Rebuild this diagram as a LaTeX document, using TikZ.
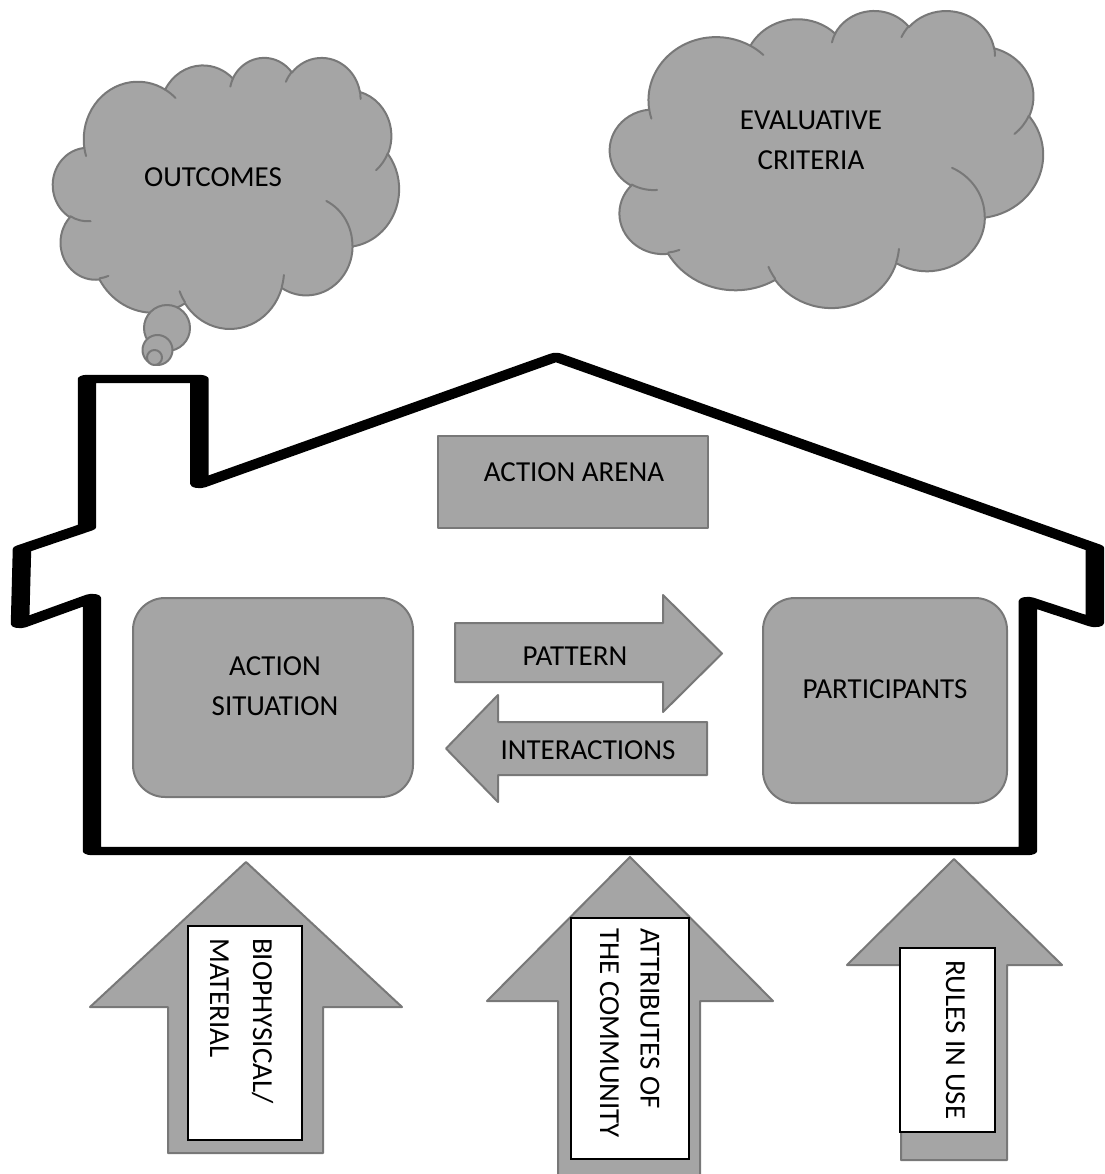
\documentclass[tikz,border=0pt]{standalone}
\usepackage{fontspec}
\setmainfont{Carlito}
\definecolor{shapefill}{RGB}{165,165,165}
\definecolor{shapeline}{RGB}{120,120,120}

% elliptical arc given by radii, start angle and sweep (angles measured as seen, y pointing down)
\newcommand\oarc[4]{arc[x radius=#1, y radius=#2,
  start angle={atan2((#1)*sin(#3),(#2)*cos(#3))},
  delta angle={mod(atan2((#1)*sin((#3)+(#4)),(#2)*cos((#3)+(#4)))-atan2((#1)*sin(#3),(#2)*cos(#3))+720,360)}]}

% cloud outline in a 432 x 432 frame
\newcommand\cloudoutline{(39.00,143.70)
  \oarc{67.53}{91.90}{-190.4875}{123.7805}
  \oarc{53.33}{72.67}{-144.1024}{89.9452}
  \oarc{43.65}{59.45}{-145.8079}{99.7230}
  \oarc{48.57}{65.95}{-130.9861}{117.2417}
  \oarc{53.33}{72.73}{-78.7089}{109.0269}
  \oarc{67.75}{92.20}{-46.2673}{130.2690}
  \oarc{57.85}{78.67}{0.6250}{114.0333}
  \oarc{67.52}{92.15}{22.4516}{115.1726}
  \oarc{77.20}{105.43}{66.2426}{75.7110}
  \oarc{43.60}{59.18}{-274.9421}{146.7356}
  \oarc{43.45}{59.45}{-246.8285}{152.5189} -- cycle}

% short creases between the puffs
\newcommand\cloudcreases{(46.93,261.77) \oarc{43.45}{59.45}{86.7420}{26.4295}
  (69.28,348.99) \oarc{43.60}{59.18}{73.6105}{11.4475}
  (164.78,390.90) \oarc{67.52}{92.15}{137.6242}{14.0811}
  (288.27,347.51) \oarc{67.52}{92.15}{6.4533}{15.9984}
  (341.29,229.54) \oarc{57.85}{78.67}{-70.2924}{70.9174}
  (417.98,153.54) \oarc{53.33}{72.73}{30.3180}{27.7515}
  (383.24,54.26) \oarc{48.57}{65.95}{-13.7443}{14.8589}
  (290.78,39.52) \oarc{48.57}{65.95}{-149.1815}{18.1954}
  (221.41,47.20) \oarc{43.65}{59.45}{-163.4943}{17.6864}
  (140.00,51.92) \oarc{67.53}{91.90}{-66.7070}{12.3194}
  (41.27,157.89) \oarc{67.53}{91.90}{157.6544}{11.8582}}

\tikzset{
  lbl/.style={font=\fontsize{29pt}{40pt}\selectfont, inner sep=0pt, text=black},
  grayshape/.style={fill=shapefill, draw=shapeline, line width=2pt, line join=round},
  boxshape/.style={grayshape, rectangle, inner sep=0pt},
  whitebox/.style={rectangle, fill=white, draw=black, line width=1.3pt, inner sep=0pt},
  bubble/.style={grayshape, circle, inner sep=0pt},
  crease/.style={draw=shapeline, line width=2pt, line cap=round},
  houseline/.style={draw=black, line width=8.4pt, line join=round}
}

\begin{document}
\begin{tikzpicture}[x=1pt, y=-1pt]
\useasboundingbox (0,0) rectangle (1104,1174);
\fill[white] (0,0) rectangle (1104,1174);

% thought cloud with its trailing bubbles
\begin{scope}[shift={(53,57)}, xscale=346/432, yscale=271/432]
  \path[grayshape] \cloudoutline;
  \path[crease] \cloudcreases;
\end{scope}
\node[bubble, minimum size=46pt] (bubbleA) at (167,328) {};
\node[bubble, minimum size=30pt] (bubbleB) at (157.5,350) {};
\node[bubble, minimum size=15pt] (bubbleC) at (154.5,357.5) {};
\node[lbl] (outcomes) at (213,177) {OUTCOMES};

% second cloud
\begin{scope}[shift={(610,10)}, xscale=433/432, yscale=297/432]
  \path[grayshape] \cloudoutline;
  \path[crease] \cloudcreases;
\end{scope}
\node[lbl, align=center] (criteria) at (811,140) {EVALUATIVE\\CRITERIA};

% house outline: walls drawn heavier than roof and floor
\begin{scope}[transform canvas={xscale=2.2}]
  \draw[houseline, xscale=1/2.2]
    (87,379) -- (199.5,379) -- (199.5,484) -- (556,357) -- (1095,548)
    -- (1095,623) -- (1028,601) -- (1028,851) -- (92,851) -- (92,598)
    -- (20,624) -- (22,549) -- (87,527) -- cycle;
\end{scope}

% action arena
\node[boxshape, minimum width=270pt, minimum height=92pt] (arena) at (573,482) {};
\node[lbl] (arenalabel) at (574,472) {ACTION ARENA};

\node[boxshape, rounded corners=32pt, minimum width=280pt, minimum height=199pt] (situation) at (273,697.5) {};
\node[lbl, align=center] (situationlabel) at (275,686) {ACTION\\SITUATION};

\node[boxshape, rounded corners=32pt, minimum width=244pt, minimum height=205pt] (participants) at (885,700.5) {};
\node[lbl] (participantslabel) at (885,689) {PARTICIPANTS};

% exchange arrows
\path[grayshape] (455,623) -- (663,623) -- (663,595) -- (722,653.5) -- (663,712) -- (663,682) -- (455,682) -- cycle;
\node[lbl] (pattern) at (575,656) {PATTERN};
\path[grayshape] (707,722) -- (498,722) -- (498,695) -- (446,748.5) -- (498,802) -- (498,775) -- (707,775) -- cycle;
\node[lbl] (interactions) at (588,750) {INTERACTIONS};

% inputs rising into the house
\path[grayshape] (246,862) -- (402,1007) -- (323,1007) -- (323,1153) -- (168,1153) -- (168,1007) -- (90,1007) -- cycle;
\node[whitebox, minimum width=114pt, minimum height=214pt] (biobox) at (245,1033) {};
\node[lbl, rotate=-90, anchor=base west] (bioA) at (253,938) {BIOPHYSICAL/};
\node[lbl, rotate=-90, anchor=base west] (bioB) at (210,938) {MATERIAL};

\path[grayshape] (630,857) -- (773,1001) -- (700,1001) -- (700,1185) -- (558,1185) -- (558,1001) -- (487,1001) -- cycle;
\node[whitebox, minimum width=118pt, minimum height=241pt] (communitybox) at (630,1038.5) {};
\node[lbl, rotate=-90, anchor=base west] (commA) at (640.5,928) {ATTRIBUTES OF};
\node[lbl, rotate=-90, anchor=base west] (commB) at (600,928) {THE COMMUNITY};

\path[grayshape] (954,859) -- (1062,965) -- (1007,965) -- (1007,1160) -- (901,1160) -- (901,965) -- (847,965) -- cycle;
\node[whitebox, minimum width=95pt, minimum height=184pt] (rulesbox) at (947.5,1040) {};
\node[lbl, rotate=-90, anchor=base west] (rules) at (946,960) {RULES IN USE};
\end{tikzpicture}
\end{document}
